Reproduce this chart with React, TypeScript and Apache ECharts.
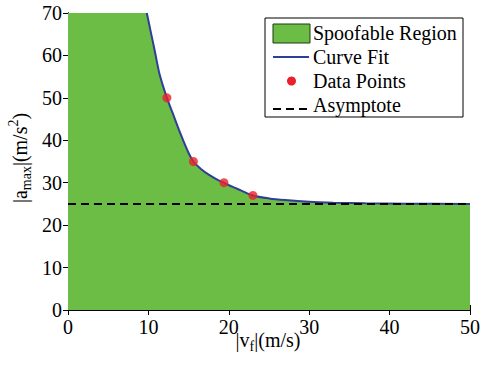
import React, { useEffect, useRef } from "react";
import * as echarts from "echarts";

const xTicks = [0, 10, 20, 30, 40, 50];
const yTicks = [0, 10, 20, 30, 40, 50, 60, 70];
const curveFit: [number, number][] = [
  [9.8, 70], [10.3, 65.5], [10.8, 61], [11.4, 55.5], [12.3, 50], [13.0, 46.5],
  [14.0, 41.5], [15.0, 37], [15.6, 35], [16.5, 33.3], [17.5, 31.9], [18.5, 30.8],
  [19.4, 30], [20.5, 29], [21.5, 28.2], [23, 27], [25, 26.3], [27, 25.9],
  [30, 25.5], [33, 25.3], [37, 25.15], [42, 25.05], [50, 25],
];
const regionTop: [number, number][] = [[0, 70], ...curveFit];
const dataPoints: [number, number][] = [[12.3, 50], [15.6, 35], [19.4, 30], [23, 27]];
const asymptote: [number, number][] = [[0, 25], [50, 25]];
const legendLabels = ["Spoofable Region", "Curve Fit", "Data Points", "Asymptote"];
const xTitleParts: [string, "n" | "sub" | "sup"][] = [["|v", "n"], ["f", "sub"], ["|(m/s)", "n"]];
const yTitleParts: [string, "n" | "sub" | "sup"][] = [["|a", "n"], ["max", "sub"], ["|(m/s", "n"], ["2", "sup"], [")", "n"]];

const GREEN = "#6cbd45";
const BLUE = "#2f3e96";
const RED = "#e8212a";
const FONT = "serif";

function runs(parts: [string, "n" | "sub" | "sup"][], cx: number) {
  const ctx = document.createElement("canvas").getContext("2d")!;
  const sizes = parts.map(([, k]) => (k === "n" ? 20 : 14));
  const widths = parts.map(([t], i) => {
    ctx.font = sizes[i] + "px " + FONT;
    return ctx.measureText(t).width;
  });
  const total = widths.reduce((a, b) => a + b, 0);
  let x = cx - total / 2;
  return parts.map(([t, k], i) => {
    const el = {
      type: "text",
      x,
      y: k === "sub" ? 6 : k === "sup" ? -7 : 0,
      style: { text: t, fontFamily: FONT, fontSize: sizes[i], fill: "#000", verticalAlign: "middle" },
    };
    x += widths[i];
    return el;
  });
}

export default function App() {
  const ref = useRef<HTMLDivElement>(null);
  useEffect(() => {
    if (!ref.current) return;
    const chart = echarts.init(ref.current, null, { renderer: "svg" });
    const axisCommon = {
      type: "value" as const,
      axisLine: { show: true, lineStyle: { color: "#000", width: 1 } },
      axisTick: { show: true, inside: true, length: 5, lineStyle: { color: "#000" } },
      splitLine: { show: false },
    };
    const label = { color: "#000", fontFamily: FONT, fontSize: 20 };
    const rowY = [33, 57, 81, 105];
    const lx = 313;
    chart.setOption({
      animation: false,
      grid: { left: 68, right: 19, top: 13, bottom: 55 },
      xAxis: [
        { ...axisCommon, min: 0, max: 50, interval: 10, axisLabel: { ...label, margin: 7 } },
        { ...axisCommon, position: "top", min: 0, max: 50, interval: 10, axisLabel: { show: false } },
      ],
      yAxis: [
        { ...axisCommon, min: 0, max: 70, interval: 10, axisLabel: { ...label, margin: 6 } },
        { ...axisCommon, position: "right", min: 0, max: 70, interval: 10, axisLabel: { show: false } },
      ],
      series: [
        {
          name: "Spoofable Region",
          type: "line",
          data: regionTop,
          symbol: "none",
          lineStyle: { width: 0 },
          areaStyle: { color: GREEN, opacity: 1 },
          z: 1,
        },
        {
          name: "Curve Fit",
          type: "line",
          data: curveFit,
          symbol: "none",
          smooth: 0.3,
          lineStyle: { color: BLUE, width: 2 },
          z: 2,
        },
        {
          name: "Asymptote",
          type: "line",
          data: asymptote,
          symbol: "none",
          lineStyle: { color: "#000", width: 2, type: [8, 5] },
          z: 3,
        },
        {
          name: "Data Points",
          type: "scatter",
          data: dataPoints,
          symbol: "circle",
          symbolSize: 9,
          itemStyle: { color: RED },
          z: 4,
        },
      ],
      graphic: [
        { type: "group", x: 0, y: 340, children: runs(xTitleParts, 268) },
        { type: "group", x: 20, y: 158, rotation: Math.PI / 2, children: runs(yTitleParts, 0) },
        { type: "rect", shape: { x: 265, y: 18, width: 198, height: 99 }, style: { fill: "#fff", stroke: "#000", lineWidth: 1 } },
        { type: "rect", shape: { x: 273, y: 24, width: 37, height: 19 }, style: { fill: GREEN, stroke: "#1e3a10", lineWidth: 1 } },
        { type: "line", shape: { x1: 273, y1: 57, x2: 309, y2: 57 }, style: { stroke: BLUE, lineWidth: 2 } },
        { type: "circle", shape: { cx: 291.5, cy: 81, r: 4.5 }, style: { fill: RED } },
        { type: "line", shape: { x1: 273, y1: 109, x2: 309, y2: 109 }, style: { stroke: "#000", lineWidth: 2, lineDash: [8, 5] } },
        ...legendLabels.map((t, i) => ({
          type: "text",
          x: lx,
          y: rowY[i],
          style: { text: t, fontFamily: FONT, fontSize: 20, fill: "#000", verticalAlign: "middle" },
        })),
      ],
    });
    return () => chart.dispose();
  }, []);
  return <div ref={ref} style={{ width: 489, height: 365, position: "absolute", left: 0, top: 0, background: "#fff" }} />;
}
